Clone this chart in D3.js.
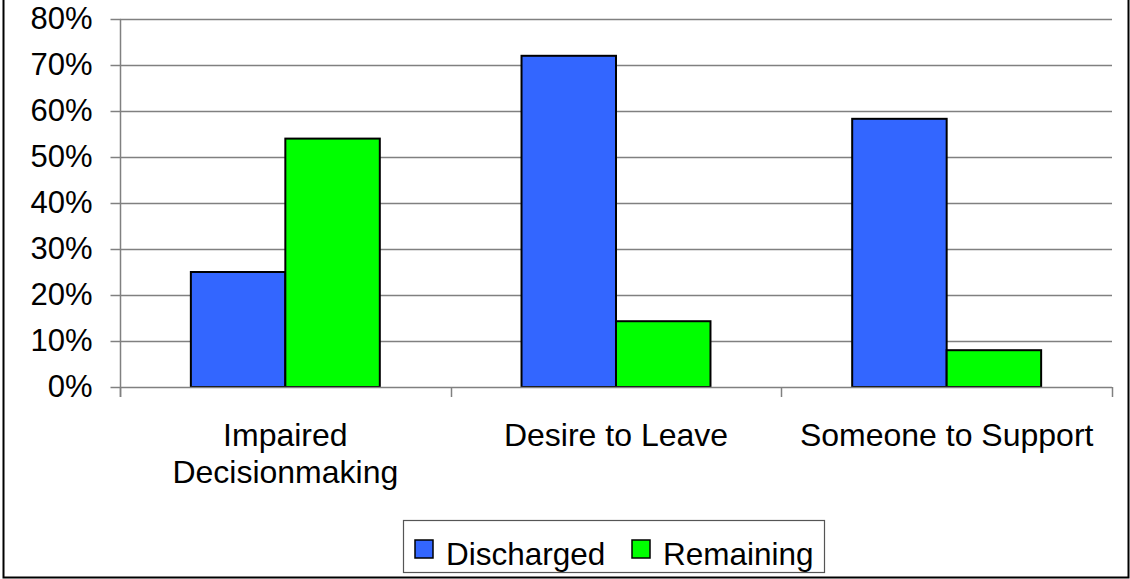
<!DOCTYPE html>
<html>
<head>
<meta charset="utf-8">
<script src="https://cdn.jsdelivr.net/npm/d3@7"></script>
<style>
  html, body { margin: 0; padding: 0; background: #fff; }
  svg { display: block; font-family: "Liberation Sans", Arial, sans-serif; }
</style>
</head>
<body>
<svg id="chart" width="1130" height="579"></svg>
<script>
// Data
const categories = ["Impaired Decisionmaking", "Desire to Leave", "Someone to Support"];
const categoryLines = [["Impaired", "Decisionmaking"], ["Desire to Leave"], ["Someone to Support"]];
const seriesNames = ["Discharged", "Remaining"];
const discharged = [0.25, 0.72, 0.583];
const remaining = [0.54, 0.143, 0.08];
const yTicks = [0, 0.1, 0.2, 0.3, 0.4, 0.5, 0.6, 0.7, 0.8];
const seriesColors = ["#3366FF", "#00FF00"];

const FONT = "'Liberation Sans', Arial, sans-serif";
const svg = d3.select("#chart");
const plot = { left: 120, right: 1112, top: 19, bottom: 387 };

// Outer frame
svg.append("rect")
  .attr("x", 3.5).attr("y", -2).attr("width", 1125).attr("height", 579.5)
  .attr("fill", "none").attr("stroke", "#000").attr("stroke-width", 2);

const y = d3.scaleLinear().domain([0, 0.8]).range([plot.bottom, plot.top]);
const x0 = d3.scaleBand().domain(categories).range([plot.left, plot.right]).padding(0);
const groupWidth = x0.bandwidth() * 2 / 3.5;   // gap width 150%
const x1 = d3.scaleBand().domain(seriesNames).range([0, groupWidth]).padding(0);

// Gridlines
svg.append("g")
  .selectAll("line")
  .data(yTicks.filter(d => d > 0))
  .join("line")
  .attr("x1", plot.left).attr("x2", plot.right)
  .attr("y1", d => Math.round(y(d)) + 0.5).attr("y2", d => Math.round(y(d)) + 0.5)
  .attr("stroke", "#808080").attr("stroke-width", 1.5);

// Y axis
const yAxis = d3.axisLeft(y)
  .tickValues(yTicks)
  .tickFormat(d3.format(".0%"))
  .tickSize(10)
  .tickPadding(18);
const gy = svg.append("g").attr("transform", `translate(${plot.left + 0.5},0)`).call(yAxis);
gy.attr("font-family", FONT);
gy.select(".domain").attr("stroke", "#808080").attr("stroke-width", 1.5)
  .attr("d", `M0,${plot.top}V${plot.bottom + 10}`);
gy.selectAll(".tick line").attr("stroke", "#808080").attr("stroke-width", 1.5);
gy.selectAll(".tick text").attr("font-size", 31).attr("fill", "#000")
  .attr("font-family", FONT);

// Bars
const rows = categories.map((c, i) => ({ cat: c, values: [discharged[i], remaining[i]] }));
const groups = svg.append("g").selectAll("g")
  .data(rows)
  .join("g")
  .attr("transform", d => `translate(${x0(d.cat) + (x0.bandwidth() - groupWidth) / 2},0)`);
groups.selectAll("rect")
  .data(d => d.values.map((v, j) => ({ name: seriesNames[j], v, j })))
  .join("rect")
  .attr("x", d => x1(d.name))
  .attr("y", d => y(d.v))
  .attr("width", x1.bandwidth())
  .attr("height", d => y(0) - y(d.v))
  .attr("fill", d => seriesColors[d.j])
  .attr("stroke", "#000").attr("stroke-width", 2);

// X axis baseline and category-boundary ticks
const gx = svg.append("g");
gx.append("line")
  .attr("x1", plot.left).attr("x2", plot.right)
  .attr("y1", plot.bottom + 0.5).attr("y2", plot.bottom + 0.5)
  .attr("stroke", "#808080").attr("stroke-width", 1.5);
const boundaries = categories.map(c => x0(c)).concat([x0(categories[categories.length - 1]) + x0.bandwidth()]);
gx.selectAll("line.tick")
  .data(boundaries)
  .join("line").attr("class", "tick")
  .attr("x1", d => Math.round(d) + 0.5).attr("x2", d => Math.round(d) + 0.5)
  .attr("y1", plot.bottom).attr("y2", plot.bottom + 10)
  .attr("stroke", "#808080").attr("stroke-width", 1.5);

// Category labels
const labels = gx.selectAll("text.cat")
  .data(categories)
  .join("text").attr("class", "cat")
  .attr("x", d => x0(d) + x0.bandwidth() / 2)
  .attr("y", 446)
  .attr("text-anchor", "middle")
  .attr("font-size", 32)
  .attr("font-family", FONT)
  .attr("fill", "#000");
labels.each(function(d, i) {
  d3.select(this).selectAll("tspan")
    .data(categoryLines[i])
    .join("tspan")
    .attr("x", x0(d) + x0.bandwidth() / 2)
    .attr("dy", (t, k) => k === 0 ? 0 : 37)
    .text(t => t);
});

// Legend
const legend = svg.append("g");
legend.append("rect")
  .attr("x", 403.5).attr("y", 520.5).attr("width", 421).attr("height", 52)
  .attr("fill", "#fff").attr("stroke", "#555").attr("stroke-width", 1.2);
const legendX = [415, 632];
const items = legend.selectAll("g.item")
  .data(seriesNames)
  .join("g").attr("class", "item")
  .attr("transform", (d, i) => `translate(${legendX[i]},0)`);
items.append("rect")
  .attr("x", 0).attr("y", 540).attr("width", 18).attr("height", 18)
  .attr("fill", (d, i) => seriesColors[i])
  .attr("stroke", "#000").attr("stroke-width", 1.5);
items.append("text")
  .attr("x", 31).attr("y", 565)
  .attr("font-size", 31.5).attr("font-family", FONT).attr("fill", "#000")
  .text(d => d);
</script>
</body>
</html>
